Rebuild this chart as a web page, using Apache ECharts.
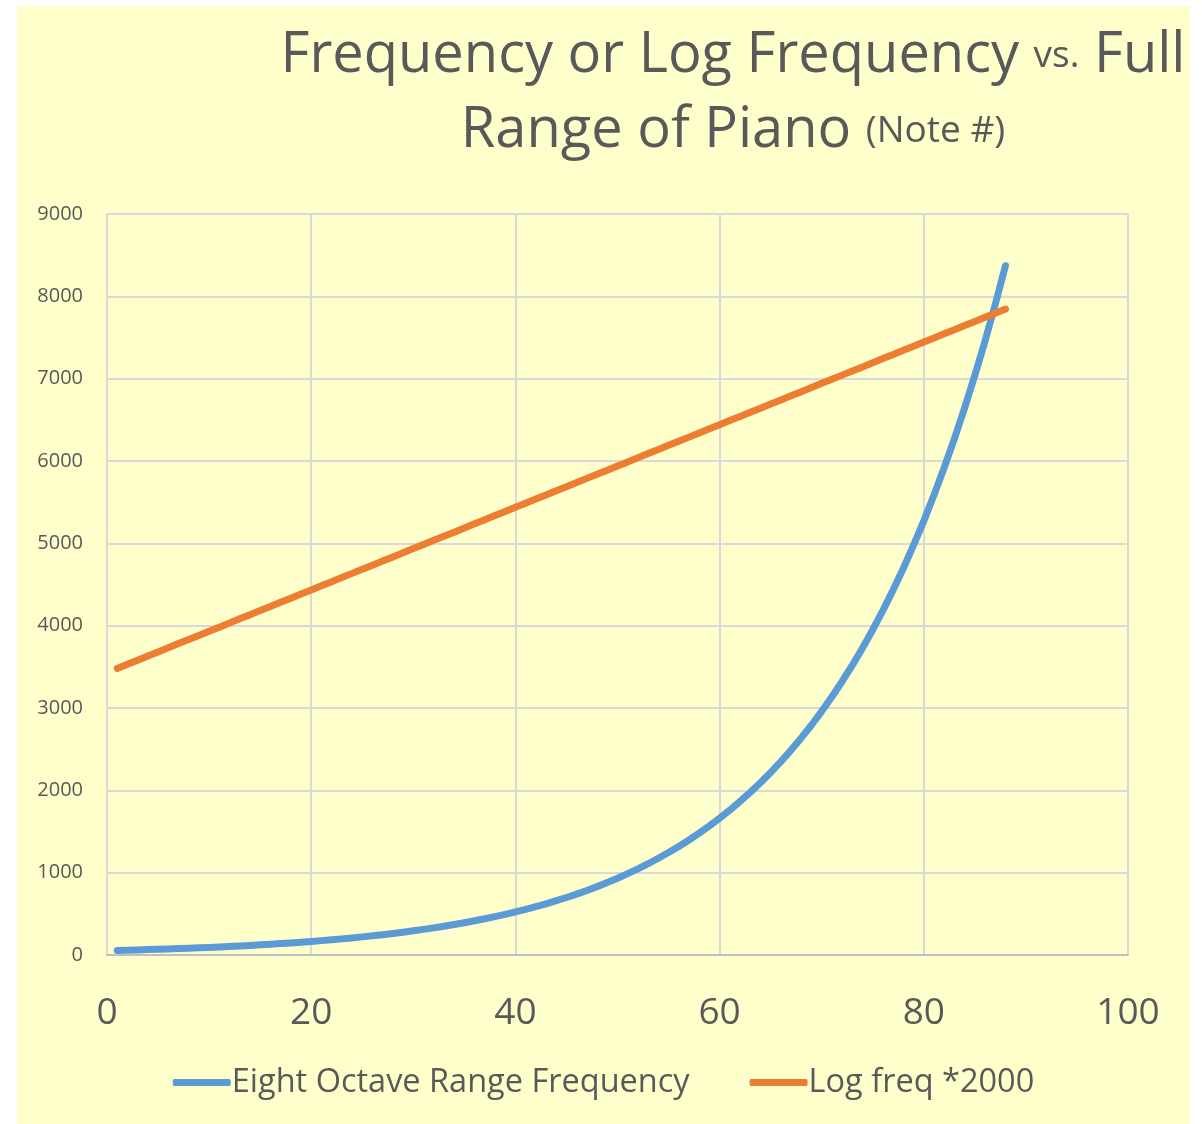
<!DOCTYPE html>
<html>
<head>
<meta charset="utf-8">
<script src="https://cdn.jsdelivr.net/npm/echarts@6/dist/echarts.min.js"></script>
<style>
html,body{margin:0;padding:0;background:#ffffff;}
#c{position:absolute;left:17px;top:6px;width:1173px;height:1118px;}
</style>
</head>
<body>
<div id="c"></div>
<script>
// Note numbers 1..88
const noteNumbers = [];
for (let i = 1; i <= 88; i++) noteNumbers.push(i);

const eightOctaveFreq = [
  55, 58.27, 61.74, 65.41, 69.30, 73.42, 77.78, 82.41, 87.31, 92.50, 98.00, 103.83,
  110, 116.54, 123.47, 130.81, 138.59, 146.83, 155.56, 164.81, 174.61, 185.00, 196.00, 207.65,
  220, 233.08, 246.94, 261.63, 277.18, 293.66, 311.13, 329.63, 349.23, 369.99, 392.00, 415.30,
  440, 466.16, 493.88, 523.25, 554.37, 587.33, 622.25, 659.26, 698.46, 739.99, 783.99, 830.61,
  880, 932.33, 987.77, 1046.5, 1108.7, 1174.7, 1244.5, 1318.5, 1396.9, 1480.0, 1568.0, 1661.2,
  1760, 1864.7, 1975.5, 2093.0, 2217.5, 2349.3, 2489.0, 2637.0, 2793.8, 2960.0, 3136.0, 3322.4,
  3520, 3729.3, 3951.1, 4186.0, 4434.9, 4698.6, 4978.0, 5274.0, 5587.7, 5919.9, 6271.9, 6644.9,
  7040, 7458.6, 7902.1, 8372.0
];

const logFreq2000 = [
  3481, 3531, 3581, 3631, 3681, 3732, 3782, 3832, 3882, 3932, 3982, 4033,
  4083, 4133, 4183, 4233, 4283, 4334, 4384, 4434, 4484, 4534, 4584, 4635,
  4685, 4735, 4785, 4835, 4885, 4936, 4986, 5036, 5086, 5136, 5186, 5237,
  5287, 5337, 5387, 5437, 5488, 5538, 5588, 5638, 5688, 5738, 5789, 5839,
  5889, 5939, 5989, 6039, 6090, 6140, 6190, 6240, 6290, 6340, 6391, 6441,
  6491, 6541, 6591, 6642, 6692, 6742, 6792, 6842, 6892, 6943, 6993, 7043,
  7093, 7143, 7193, 7244, 7294, 7344, 7394, 7444, 7495, 7545, 7595, 7645,
  7695, 7745, 7795, 7846
];

const seriesNames = ['Eight Octave Range Frequency', 'Log freq *2000'];

const chart = echarts.init(document.getElementById('c'), null, {renderer: 'canvas'});
const font = '"Open Sans", Lato, sans-serif';
const txt = '#595959';

chart.setOption({
  backgroundColor: '#FFFFCC',
  animation: false,
  title: {
    text: '{big|Frequency or Log Frequency }{small|vs.}{big| Full}\n{big|Range of Piano }{small|(Note #)}',
    left: 711,
    top: 8,
    textAlign: 'center',
    textStyle: {
      fontWeight: 'normal',
      rich: {
        big: {fontFamily: font, fontSize: 56, fontWeight: 'normal', color: txt, lineHeight: 75},
        small: {fontFamily: font, fontSize: 37, fontWeight: 'normal', color: txt, lineHeight: 75}
      }
    }
  },
  legend: {
    bottom: 20,
    left: 'center',
    itemWidth: 58,
    itemHeight: 7,
    itemGap: 60,
    icon: 'roundRect',
    textStyle: {fontFamily: font, fontSize: 32.5, color: txt, padding: [0, 0, 0, -4]},
    data: seriesNames
  },
  grid: {left: 90, right: 62, top: 208, bottom: 169, containLabel: false},
  xAxis: {
    type: 'value', min: 0, max: 100, interval: 20,
    axisLine: {show: true, lineStyle: {color: '#BFBFBF', width: 2}},
    axisTick: {show: false},
    axisLabel: {fontFamily: font, fontSize: 37, color: txt, margin: 40},
    splitLine: {show: true, lineStyle: {color: '#D9D9D9', width: 2}}
  },
  yAxis: {
    type: 'value', min: 0, max: 9000, interval: 1000,
    axisLine: {show: false},
    axisTick: {show: false},
    axisLabel: {fontFamily: font, fontSize: 20, color: txt, margin: 24, formatter: v => String(v)},
    splitLine: {show: true, lineStyle: {color: '#D9D9D9', width: 2}}
  },
  series: [
    {
      name: seriesNames[0], type: 'line', showSymbol: false, symbol: 'none',
      data: noteNumbers.map((n, i) => [n, eightOctaveFreq[i]]),
      lineStyle: {color: '#5B9BD5', width: 7, cap: 'round', join: 'round'},
      itemStyle: {color: '#5B9BD5'}
    },
    {
      name: seriesNames[1], type: 'line', showSymbol: false, symbol: 'none',
      data: noteNumbers.map((n, i) => [n, logFreq2000[i]]),
      lineStyle: {color: '#ED7D31', width: 7, cap: 'round', join: 'round'},
      itemStyle: {color: '#ED7D31'}
    }
  ]
});
</script>
</body>
</html>
